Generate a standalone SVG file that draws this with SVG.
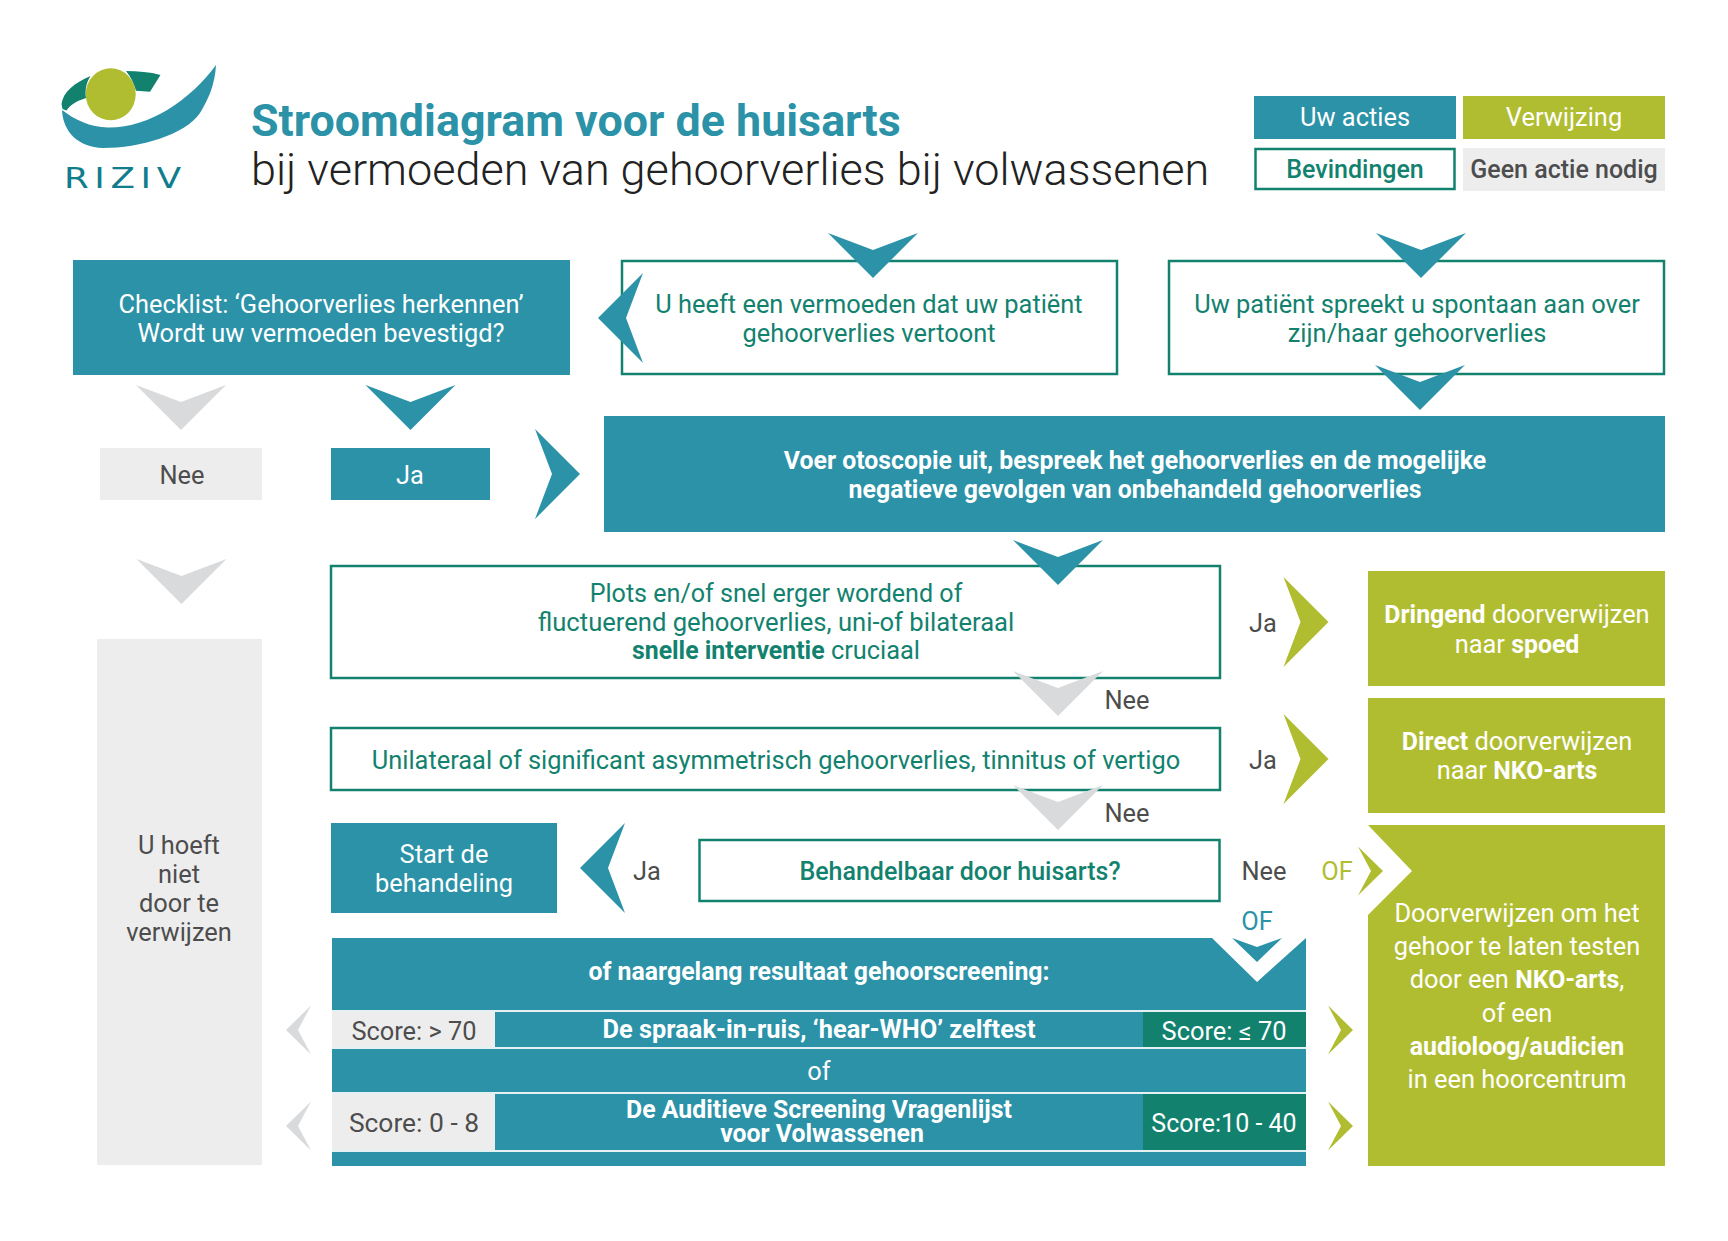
<svg xmlns="http://www.w3.org/2000/svg" width="1728" height="1241" viewBox="0 0 1728 1241">
<style>
text{font-family:Roboto,"Liberation Sans",sans-serif;font-size:25.4px;text-anchor:middle}
.b{font-weight:700;font-size:24.85px}
.m{font-weight:500;font-size:25px}
.w{fill:#fff}
.g{fill:#12826f}
.d{fill:#4d4d4d}
.t{fill:#2b92a8}
.l{fill:#b1bd31}
.c{fill:#d9dadc}
.e{fill:#ededed}
.o{fill:#fff;stroke:#12826f;stroke-width:2.5}
.s{stroke:#e4f1f3;stroke-width:2}
</style>
<defs>
<polygon id="dn" points="-45,0 0,17 45,0 0,45"/>
<polygon id="rt" points="0,-45 17,0 0,45 45,0"/>
<polygon id="lf" points="45,-45 28,0 45,45 0,0"/>
<polygon id="rs" points="0,-24.5 13,0 0,24.5 25,0"/>
<polygon id="ls" points="25,-24.5 12,0 25,24.5 0,0"/>
</defs>
<rect width="1728" height="1241" fill="#fff"/>
<g id="logo">
<path class="t" d="M62,110C75,120 90,127 108,127.500C150,128 190,100 216,65C215,85 208,100 200,113C185,135 140,148 103,148C78,147 63,132 62,110Z"/>
<path class="g" d="M61.500,104C63,92 74,83 90.500,76C86,83 85,90 86,98C77,101 71,104 66.500,110.500L62.500,109Z"/>
<path class="g" d="M126,71C138,71 150,72 160.500,75L150,91.700L136,90.700C134,84 131,77 126,71Z"/>
<ellipse class="l" cx="110.700" cy="94.300" rx="25" ry="26"/>
<text transform="translate(64 188) scale(1.25 1)" style="text-anchor:start;font-family:'DejaVu Sans',sans-serif;font-size:28.500px;letter-spacing:4.500px;fill:#0f7d8c">RIZIV</text>
</g>
<g id="title">
<text x="251" y="136" class="b t" style="text-anchor:start;font-size:44.800px">Stroomdiagram voor de huisarts</text>
<text x="251" y="185" style="text-anchor:start;font-size:45px;font-weight:300;fill:#222">bij vermoeden van gehoorverlies bij volwassenen</text>
</g>
<g id="legend">
<rect class="t" x="1254" y="96" width="202" height="43"/><text class="w" x="1355" y="126">Uw acties</text>
<rect class="l" x="1463" y="96" width="202" height="43"/><text class="w" x="1564" y="126">Verwijzing</text>
<rect class="o" x="1255.500" y="149" width="199" height="40"/><text class="g m" x="1355" y="178">Bevindingen</text>
<rect class="e" x="1463" y="148" width="202" height="43"/><text class="d m" x="1564" y="178">Geen actie nodig</text>
</g>
<g id="checklist"><rect class="t" x="73" y="260" width="497" height="115"/><text class="w" x="321" y="312.500">Checklist: ‘Gehoorverlies herkennen’</text><text class="w" x="321" y="341.500">Wordt uw vermoeden bevestigd?</text></g>
<g id="vermoeden"><rect class="o" x="622" y="261" width="495" height="113"/><text class="g" x="869" y="312.500">U heeft een vermoeden dat uw patiënt</text><text class="g" x="869" y="341.500">gehoorverlies vertoont</text></g>
<g id="spontaan"><rect class="o" x="1169" y="261" width="495" height="113"/><text class="g" x="1417" y="312.500">Uw patiënt spreekt u spontaan aan over</text><text class="g" x="1417" y="341.500">zijn/haar gehoorverlies</text></g>
<g id="nee"><rect class="e" x="100" y="448" width="162" height="52"/><text class="d" x="182" y="484">Nee</text></g>
<g id="ja"><rect class="t" x="331" y="448" width="159" height="52"/><text class="w" x="410" y="484">Ja</text></g>
<g id="otoscopie"><rect class="t" x="604" y="416" width="1061" height="116"/><text class="w b" x="1135" y="468.500">Voer otoscopie uit, bespreek het gehoorverlies en de mogelijke</text><text class="w b" x="1135" y="497.500">negatieve gevolgen van onbehandeld gehoorverlies</text></g>
<g id="plots"><rect class="o" x="331" y="566" width="889" height="112"/><text class="g" x="776" y="602" style="font-size:25.100px">Plots en/of snel erger wordend of</text><text class="g" x="776" y="630.500" style="font-size:25.600px">fluctuerend gehoorverlies, uni-of bilateraal</text><text class="g" x="776" y="659"><tspan class="b">snelle interventie</tspan> cruciaal</text></g>
<g id="unilateraal"><rect class="o" x="331" y="728" width="889" height="62"/><text class="g" x="776" y="769">Unilateraal of significant asymmetrisch gehoorverlies, tinnitus of vertigo</text></g>
<g id="start"><rect class="t" x="331" y="823" width="226" height="90"/><text class="w" x="444" y="863">Start de</text><text class="w" x="444" y="892">behandeling</text></g>
<g id="behandelbaar"><rect class="o" x="699.500" y="840" width="520" height="61"/><text class="g m" x="960" y="880">Behandelbaar door huisarts?</text></g>
<g id="niet-verwijzen"><rect class="e" x="97" y="639" width="165" height="526"/><text class="d" x="179" y="854">U hoeft</text><text class="d" x="179" y="883">niet</text><text class="d" x="179" y="912">door te</text><text class="d" x="179" y="941">verwijzen</text></g>
<g id="dringend"><rect class="l" x="1368" y="571" width="297" height="115"/><text class="w" x="1517" y="623"><tspan class="b">Dringend</tspan> doorverwijzen</text><text class="w" x="1517" y="653">naar <tspan class="b">spoed</tspan></text></g>
<g id="direct"><rect class="l" x="1368" y="698" width="297" height="115"/><text class="w" x="1517" y="750"><tspan class="b">Direct</tspan> doorverwijzen</text><text class="w" x="1517" y="779">naar <tspan class="b">NKO-arts</tspan></text></g>
<g id="doorverwijzen"><polygon class="l" points="1368,825 1665,825 1665,1166 1368,1166 1368,915 1412,871"/>
<text class="w" x="1517" y="921.500">Doorverwijzen om het</text><text class="w" x="1517" y="954.500">gehoor te laten testen</text><text class="w" x="1517" y="988">door een <tspan class="b">NKO-arts</tspan>,</text><text class="w" x="1517" y="1021.500">of een</text><text class="w b" x="1517" y="1054.500">audioloog/audicien</text><text class="w" x="1517" y="1088">in een hoorcentrum</text></g>
<g id="screening"><polygon class="t" points="332,938 1212,938 1257,982 1306,938 1306,1166 332,1166"/>
<line class="s" x1="332" x2="1306" y1="1011" y2="1011"/><line class="s" x1="332" x2="1306" y1="1048" y2="1048"/><line class="s" x1="332" x2="1306" y1="1093" y2="1093"/><line class="s" x1="332" x2="1306" y1="1151" y2="1151"/>
<rect class="e" x="332" y="1012" width="163" height="35"/><rect class="e" x="332" y="1094" width="163" height="56"/>
<rect class="g" x="1143" y="1012" width="163" height="35"/><rect class="g" x="1143" y="1094" width="163" height="56"/>
<text class="w b" x="819" y="980">of naargelang resultaat gehoorscreening:</text>
<text class="w b" x="819" y="1038" style="font-size:25.400px">De spraak-in-ruis, ‘hear-WHO’ zelftest</text>
<text class="w" x="819" y="1080">of</text>
<text class="w b" x="819" y="1118">De Auditieve Screening Vragenlijst</text><text class="w b" x="822" y="1142">voor Volwassenen</text>
<text class="d" x="414" y="1040">Score: &gt; 70</text><text class="d" x="414" y="1132" style="font-size:26.400px">Score: 0 - 8</text>
<text class="w" x="1224" y="1040">Score: ≤ 70</text><text class="w" x="1224" y="1132" style="font-size:25px">Score:10 - 40</text></g>
<g id="connectors">
<use href="#dn" class="t" x="873" y="233"/>
<use href="#dn" class="t" x="1421" y="233"/>
<use href="#dn" class="t" x="1420" y="365"/>
<use href="#lf" class="t" x="598" y="318"/>
<use href="#dn" class="c" x="181" y="385"/>
<use href="#dn" class="t" x="410.500" y="385"/>
<use href="#dn" class="c" x="181.500" y="559"/>
<use href="#rt" class="t" x="535" y="474"/>
<use href="#dn" class="t" x="1058" y="540"/>
<use href="#dn" class="c" x="1058" y="671"/>
<use href="#dn" class="c" x="1058" y="785"/>
<use href="#rt" class="l" x="1283.500" y="622"/>
<use href="#rt" class="l" x="1283.500" y="759"/>
<use href="#lf" class="t" x="580" y="868"/>
<use href="#rs" class="l" x="1358" y="871"/>
<polygon class="t" points="1232,938 1257,947 1282,938 1257,962"/>
<use href="#rs" class="l" x="1328" y="1030"/>
<use href="#rs" class="l" x="1328" y="1126"/>
<use href="#ls" class="c" x="286" y="1030"/>
<use href="#ls" class="c" x="286" y="1126"/>
</g>
<g id="labels">
<text class="d" x="1263" y="631.500">Ja</text>
<text class="d" x="1127" y="709">Nee</text>
<text class="d" x="1263" y="769">Ja</text>
<text class="d" x="1127" y="822">Nee</text>
<text class="d" x="647" y="880">Ja</text>
<text class="d" x="1264" y="879.500">Nee</text>
<text class="l" x="1337" y="879.500">OF</text>
<text class="t" x="1257" y="930">OF</text>
</g>
</svg>
